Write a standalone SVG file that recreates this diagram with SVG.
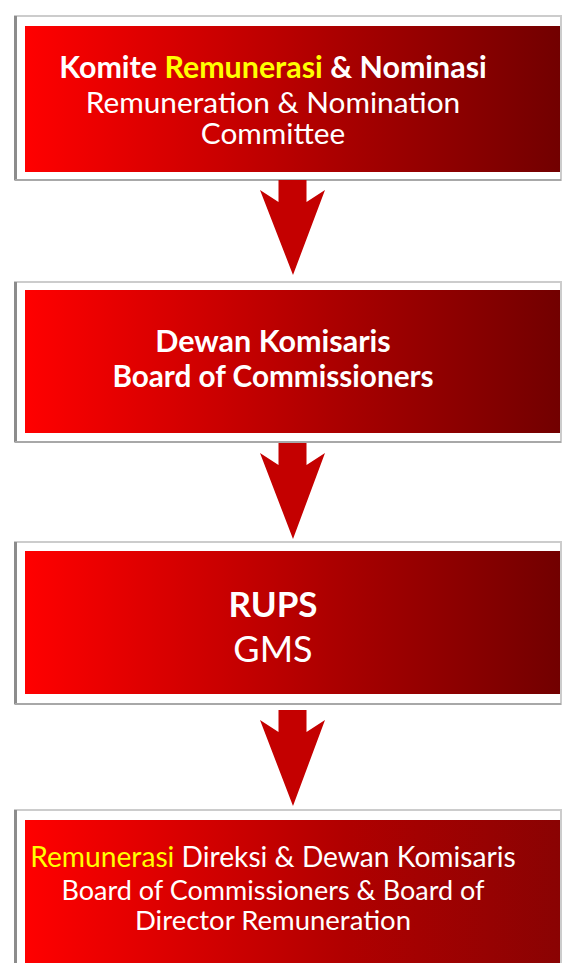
<svg xmlns="http://www.w3.org/2000/svg" width="562" height="963" viewBox="0 0 562 963">
<defs>
<linearGradient id="red" x1="0" y1="0" x2="1" y2="0">
<stop offset="0" stop-color="#ff0000"/>
<stop offset="0.6" stop-color="#a80000"/>
<stop offset="1" stop-color="#720000"/>
</linearGradient>
<linearGradient id="red4" x1="0" y1="0" x2="1" y2="0">
<stop offset="0" stop-color="#ff0000"/>
<stop offset="0.6" stop-color="#b00000"/>
<stop offset="1" stop-color="#8a0303"/>
</linearGradient>
</defs>
<style>
.frame{fill:#ffffff;stroke:#cccccc;stroke-width:2}
.left{stroke:#8c8c8c;stroke-width:3}
.bot{stroke:#a8a8a8;stroke-width:2}
.box{fill:url(#red)}
.t{font-family:Lato,"Open Sans","Liberation Sans",sans-serif;fill:#ffffff;text-anchor:middle}
.b{font-weight:700}
.r{font-weight:400}
.y{fill:#ffff00}
.arrow{fill:#c40000}
</style>
<rect width="562" height="963" fill="#ffffff"/>
<g id="node1">
<rect class="frame" x="15" y="16" width="546" height="164"/>
<line class="left" x1="15.5" y1="16" x2="15.5" y2="180"/>
<line class="bot" x1="15" y1="180" x2="561" y2="180"/>
<rect class="box" x="25" y="26" width="535" height="146"/>
<text class="t b" x="273" y="78" font-size="30.4">Komite <tspan class="y">Remunerasi</tspan> &amp; Nominasi</text>
<text class="t r" x="273" y="112.5" font-size="29.8">Remuneration &amp; Nomination</text>
<text class="t r" x="273" y="143.5" font-size="29.8">Committee</text>
</g>
<g id="node2">
<rect class="frame" x="15" y="282" width="546" height="160"/>
<line class="left" x1="15.5" y1="282" x2="15.5" y2="442"/>
<line class="bot" x1="15" y1="442" x2="561" y2="442"/>
<rect class="box" x="25" y="290" width="535" height="143"/>
<text class="t b" x="273" y="352" font-size="30.5">Dewan Komisaris</text>
<text class="t b" x="273" y="387" font-size="29.7">Board of Commissioners</text>
</g>
<g id="node3">
<rect class="frame" x="15" y="542" width="546" height="162"/>
<line class="left" x1="15.5" y1="542" x2="15.5" y2="704"/>
<line class="bot" x1="15" y1="704" x2="561" y2="704"/>
<rect class="box" x="25" y="551" width="535" height="143"/>
<text class="t b" x="273" y="617" font-size="35">RUPS</text>
<text class="t r" x="273" y="662" font-size="36">GMS</text>
</g>
<g id="node4">
<rect class="frame" x="15" y="810" width="546" height="160"/>
<line class="left" x1="15.5" y1="810" x2="15.5" y2="963"/>
<rect x="25" y="820" width="535" height="150" fill="url(#red4)"/>
<text class="t r" x="273" y="867" font-size="28.2"><tspan class="y">Remunerasi</tspan> Direksi &amp; Dewan Komisaris</text>
<text class="t r" x="273" y="900" font-size="27">Board of Commissioners &amp; Board of</text>
<text class="t r" x="273" y="930" font-size="27.5">Director Remuneration</text>
</g>
<g id="connectors">
<polygon class="arrow" points="278.5,180 306.5,180 306.5,202 325,190 293,275 260,190 278.5,202"/>
<polygon class="arrow" points="278.5,443 306.5,443 306.5,465 325,453 293,539 260,453 278.5,465"/>
<polygon class="arrow" points="278.5,710 306.5,710 306.5,732 325,720 293,806 260,720 278.5,732"/>
</g>
</svg>
